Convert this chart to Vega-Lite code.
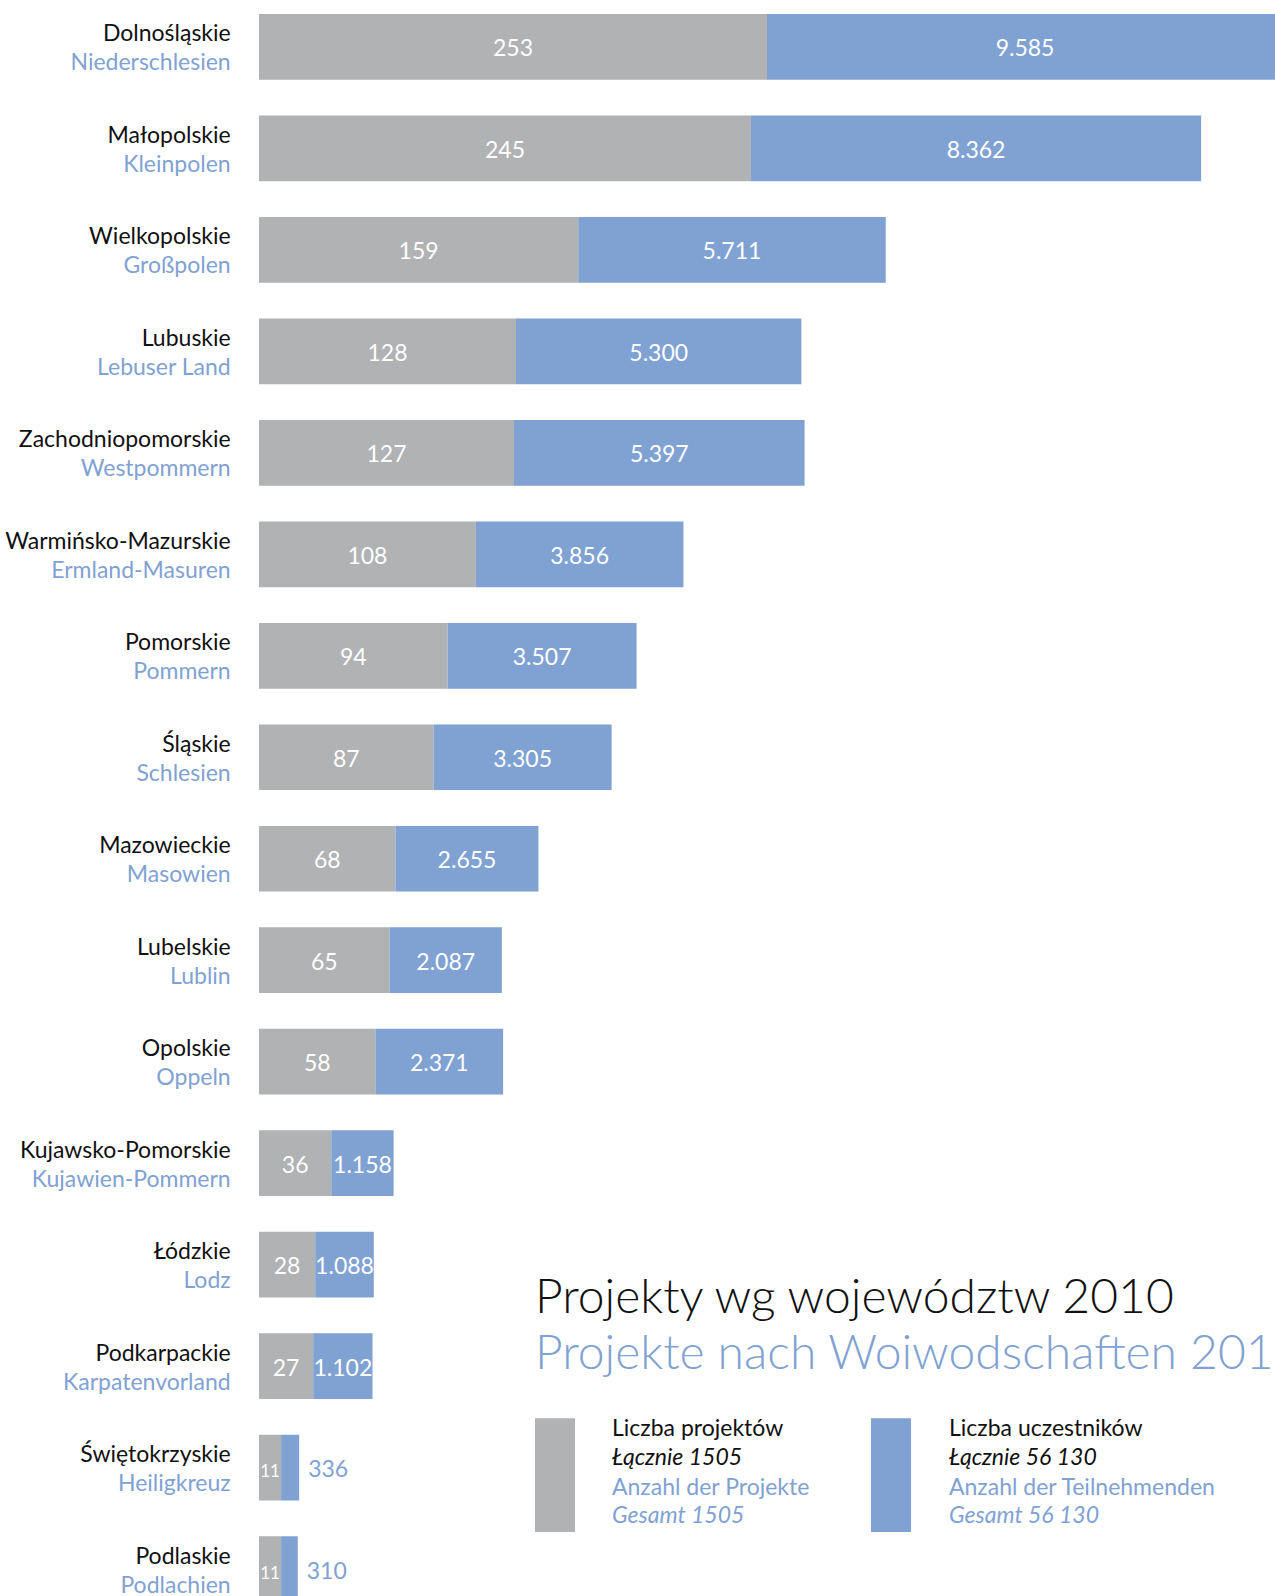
{
  "$schema": "https://vega.github.io/schema/vega-lite/v6.json",
  "width": 1016,
  "height": 1588,
  "autosize": "none",
  "padding": {"left": 259, "top": 14, "right": 0, "bottom": -6},
  "background": "white",
  "config": {"font": "Lato", "view": {"stroke": null}},
  "title": {
    "text": "Projekty wg województw 2010",
    "subtitle": "Projekte nach Woiwodschaften 2010",
    "anchor": "start", "frame": "group", "orient": "top", "offset": 0,
    "dx": 276, "dy": 1365,
    "font": "Lato", "fontSize": 48, "fontWeight": 300, "color": "#111111",
    "subtitleFont": "Lato", "subtitleFontSize": 48, "subtitleFontWeight": 300, "subtitleColor": "#7fa2d3",
    "subtitlePadding": 8, "limit": 3000
  },
  "data": {"values": [
    {"pl": "Dolnośląskie", "de": "Niederschlesien", "projects": 253, "participants": 9585},
    {"pl": "Małopolskie", "de": "Kleinpolen", "projects": 245, "participants": 8362},
    {"pl": "Wielkopolskie", "de": "Großpolen", "projects": 159, "participants": 5711},
    {"pl": "Lubuskie", "de": "Lebuser Land", "projects": 128, "participants": 5300},
    {"pl": "Zachodniopomorskie", "de": "Westpommern", "projects": 127, "participants": 5397},
    {"pl": "Warmińsko-Mazurskie", "de": "Ermland-Masuren", "projects": 108, "participants": 3856},
    {"pl": "Pomorskie", "de": "Pommern", "projects": 94, "participants": 3507},
    {"pl": "Śląskie", "de": "Schlesien", "projects": 87, "participants": 3305},
    {"pl": "Mazowieckie", "de": "Masowien", "projects": 68, "participants": 2655},
    {"pl": "Lubelskie", "de": "Lublin", "projects": 65, "participants": 2087},
    {"pl": "Opolskie", "de": "Oppeln", "projects": 58, "participants": 2371},
    {"pl": "Kujawsko-Pomorskie", "de": "Kujawien-Pommern", "projects": 36, "participants": 1158},
    {"pl": "Łódzkie", "de": "Lodz", "projects": 28, "participants": 1088},
    {"pl": "Podkarpackie", "de": "Karpatenvorland", "projects": 27, "participants": 1102},
    {"pl": "Świętokrzyskie", "de": "Heiligkreuz", "projects": 11, "participants": 336},
    {"pl": "Podlaskie", "de": "Podlachien", "projects": 11, "participants": 310}
  ]},
  "transform": [
    {"fold": ["projects", "participants"], "as": ["measure", "value"]},
    {"calculate": "datum.measure === 'projects' ? 0 : datum.projects", "as": "x0"},
    {"calculate": "datum.measure === 'projects' ? datum.projects : datum.projects + datum.participants * 1505 / 56130", "as": "x1"},
    {"calculate": "(datum.x0 + datum.x1) / 2", "as": "mid"},
    {"calculate": "datum.measure === 'projects' ? format(datum.value, 'd') : replace(format(datum.value, ','), ',', '.')", "as": "label"}
  ],
  "encoding": {
    "y": {"field": "pl", "type": "nominal", "sort": null, "axis": null, "scale": {"paddingInner": 0.3525, "paddingOuter": 0}}
  },
  "layer": [
    {
      "mark": {"type": "bar"},
      "encoding": {
        "x": {"field": "x0", "type": "quantitative", "axis": null, "scale": {"domain": [0, 506], "nice": false, "zero": true}},
        "x2": {"field": "x1"},
        "color": {
          "field": "measure", "type": "nominal",
          "scale": {"domain": ["projects", "participants"], "range": ["#b1b2b4", "#7fa2d3"]},
          "legend": {
            "title": null, "orient": "none", "legendX": 276, "legendY": 1311, "direction": "horizontal", "columns": 2,
            "padding": 0, "columnPadding": 295, "rowPadding": 0,
            "symbolType": "M-1,-0.3787H-0.7333V0.3787H-1Z", "symbolSize": 90000, "symbolStrokeWidth": 0, "symbolOpacity": 1,
            "labelExpr": "''", "labelOffset": -280, "labelFontSize": 23, "labelLimit": 1000
          }
        }
      }
    },
    {
      "transform": [{"filter": "datum.measure === 'projects' || datum.value >= 1000"}],
      "mark": {"type": "text", "align": "center", "baseline": "alphabetic", "dy": 9.5, "font": "Lato"},
      "encoding": {
        "x": {"field": "mid", "type": "quantitative", "axis": null, "scale": {"domain": [0, 506], "nice": false, "zero": true}},
        "text": {"field": "label"},
        "size": {"condition": {"test": "datum.value < 20", "value": 17}, "value": 23},
        "color": {
          "field": "measure", "type": "nominal",
          "scale": {"domain": ["projects", "participants"], "range": ["#ffffff", "#ffffff"]},
          "legend": {
            "title": null, "orient": "none", "legendX": 276, "legendY": 1301, "direction": "horizontal", "columns": 2,
            "padding": 0, "columnPadding": 37, "rowPadding": 0,
            "symbolType": "M-1,-0.3787H1V0.3787H-1Z", "symbolSize": 90000, "symbolStrokeWidth": 0, "symbolOpacity": 0,
            "labelExpr": "datum.value === 'projects' ? 'Łącznie 1505' : 'Łącznie 56 130'",
            "labelBaseline": "alphabetic",
            "labelOffset": -223, "labelFont": "Lato", "labelFontSize": 23, "labelFontStyle": "italic", "labelColor": "#111111", "labelLimit": 1000
          }
        }
      }
    },
    {
      "transform": [{"filter": "datum.measure === 'participants' && datum.value < 1000"}],
      "mark": {"type": "text", "align": "left", "baseline": "alphabetic", "dx": 9, "dy": 9.5, "fontSize": 23, "font": "Lato"},
      "encoding": {
        "x": {"field": "x1", "type": "quantitative", "axis": null, "scale": {"domain": [0, 506], "nice": false, "zero": true}},
        "text": {"field": "label"},
        "color": {
          "datum": "projects",
          "scale": {"domain": ["projects", "participants"], "range": ["#7fa2d3", "#7fa2d3"]},
          "legend": {
            "title": null, "orient": "none", "legendX": 276, "legendY": 1359, "direction": "horizontal", "columns": 2,
            "padding": 0, "columnPadding": 37, "rowPadding": 0,
            "symbolType": "M-1,-0.3787H1V0.3787H-1Z", "symbolSize": 90000, "symbolStrokeWidth": 0, "symbolOpacity": 0,
            "labelExpr": "datum.value === 'projects' ? 'Gesamt 1505' : 'Gesamt 56 130'",
            "labelBaseline": "alphabetic",
            "labelOffset": -223, "labelFont": "Lato", "labelFontSize": 23, "labelFontStyle": "italic", "labelColor": "#7fa2d3", "labelLimit": 1000
          }
        }
      }
    },
    {
      "transform": [{"filter": "datum.measure === 'projects'"}],
      "mark": {"type": "text", "align": "right", "baseline": "alphabetic", "dx": -28.3, "dy": -5.5, "fontSize": 23, "font": "Lato"},
      "encoding": {
        "x": {"datum": 0, "type": "quantitative", "axis": null, "scale": {"domain": [0, 506], "nice": false, "zero": true}},
        "text": {"field": "pl"},
        "color": {
          "datum": "projects",
          "scale": {"domain": ["projects", "participants"], "range": ["#111111", "#111111"]},
          "legend": {
            "title": null, "orient": "none", "legendX": 276, "legendY": 1272, "direction": "horizontal", "columns": 2,
            "padding": 0, "columnPadding": 37, "rowPadding": 0,
            "symbolType": "M-1,-0.3787H1V0.3787H-1Z", "symbolSize": 90000, "symbolStrokeWidth": 0, "symbolOpacity": 0,
            "labelExpr": "datum.value === 'projects' ? 'Liczba projektów' : 'Liczba uczestników'",
            "labelBaseline": "alphabetic",
            "labelOffset": -223, "labelFont": "Lato", "labelFontSize": 23, "labelColor": "#111111", "labelLimit": 1000
          }
        }
      }
    },
    {
      "transform": [{"filter": "datum.measure === 'projects'"}],
      "mark": {"type": "text", "align": "right", "baseline": "alphabetic", "dx": -28.3, "dy": 23.5, "fontSize": 23, "font": "Lato"},
      "encoding": {
        "x": {"datum": 0, "type": "quantitative", "axis": null, "scale": {"domain": [0, 506], "nice": false, "zero": true}},
        "text": {"field": "de"},
        "color": {
          "datum": "projects",
          "scale": {"domain": ["projects", "participants"], "range": ["#7fa2d3", "#7fa2d3"]},
          "legend": {
            "title": null, "orient": "none", "legendX": 276, "legendY": 1331, "direction": "horizontal", "columns": 2,
            "padding": 0, "columnPadding": 37, "rowPadding": 0,
            "symbolType": "M-1,-0.3787H1V0.3787H-1Z", "symbolSize": 90000, "symbolStrokeWidth": 0, "symbolOpacity": 0,
            "labelExpr": "datum.value === 'projects' ? 'Anzahl der Projekte' : 'Anzahl der Teilnehmenden'",
            "labelBaseline": "alphabetic",
            "labelOffset": -223, "labelFont": "Lato", "labelFontSize": 23, "labelColor": "#7fa2d3", "labelLimit": 1000
          }
        }
      }
    }
  ],
  "resolve": {"scale": {"color": "independent"}, "legend": {"color": "independent"}}
}
